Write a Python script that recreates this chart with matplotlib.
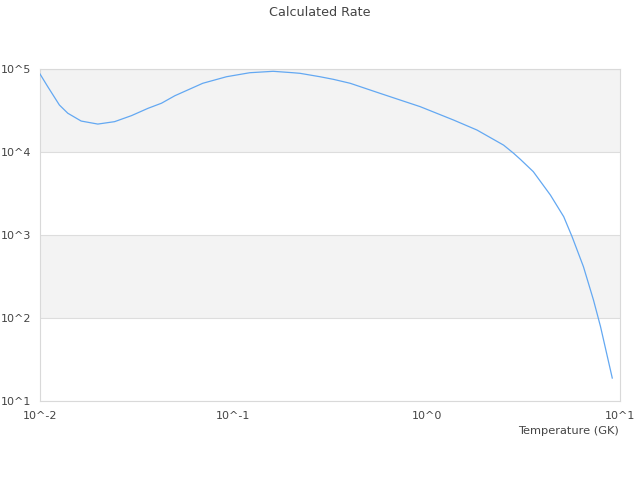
import numpy as np
import matplotlib
matplotlib.use('Agg')
import matplotlib.pyplot as plt
from matplotlib.ticker import FixedLocator, FixedFormatter

plt.rcParams['font.family'] = ['DejaVu Sans']

# temperature (GK) and calculated rate
temp = [0.0100, 0.01097, 0.0126, 0.01393, 0.01633, 0.01991, 0.0243, 0.0297,
        0.0362, 0.0425, 0.0498, 0.0695, 0.0922, 0.1217, 0.1607, 0.2030, 0.2213,
        0.2805, 0.329, 0.402, 0.574, 0.729, 0.925, 1.376, 1.82, 2.50, 2.818,
        3.05, 3.56, 4.365, 5.117, 5.65, 6.47, 7.29, 7.93, 9.12]
rate = [87100, 61200, 36800, 29300, 23600, 21700, 23200, 27400,
        33600, 38700, 47600, 67300, 80700, 90200, 93800, 90200, 88700,
        80700, 75100, 67300, 50900, 42300, 35200, 24300, 18400, 12100, 9640,
        8170, 5800, 3030, 1660, 955, 415, 165, 78.7, 18.9]

x_ticks = [0.01, 0.1, 1, 10]
x_labels = ['10^-2', '10^-1', '10^0', '10^1']
y_ticks = [10, 100, 1000, 10000, 100000]
y_labels = ['10^1', '10^2', '10^3', '10^4', '10^5']

fig = plt.figure(figsize=(6.4, 4.8), dpi=100)
ax = fig.add_axes([40/640, 1 - 401/480, 580/640, 332/480])

ax.set_xscale('log')
ax.set_yscale('log')
ax.set_xlim(0.01, 10)
ax.set_ylim(10, 100000)

# alternating bands
ax.axhspan(1e4, 1e5, color='#f3f3f3', zorder=0, lw=0)
ax.axhspan(1e2, 1e3, color='#f3f3f3', zorder=0, lw=0)

ax.plot(temp, rate, color='#63a8f2', lw=0.9, zorder=3)

ax.yaxis.set_major_locator(FixedLocator(y_ticks))
ax.yaxis.set_major_formatter(FixedFormatter(y_labels))
ax.xaxis.set_major_locator(FixedLocator(x_ticks))
ax.xaxis.set_major_formatter(FixedFormatter(x_labels))
ax.minorticks_off()
ax.grid(True, axis='y', color='#dddddd', lw=0.8, zorder=1)
ax.grid(False, axis='x')
ax.tick_params(length=0, labelsize=8, colors='#444444')
ax.tick_params(axis='x', pad=7)
ax.tick_params(axis='y', pad=6)

for s in ax.spines.values():
    s.set_color('#d9d9d9')
    s.set_linewidth(0.8)

fig.text(0.5, 1 - 12/480, 'Calculated Rate', ha='center', va='center',
         fontsize=9.2, color='#444444')
fig.text(619/640, 1 - 431/480, 'Temperature (GK)', ha='right', va='center',
         fontsize=8.2, color='#444444')

fig.savefig('out.png', dpi=100)
